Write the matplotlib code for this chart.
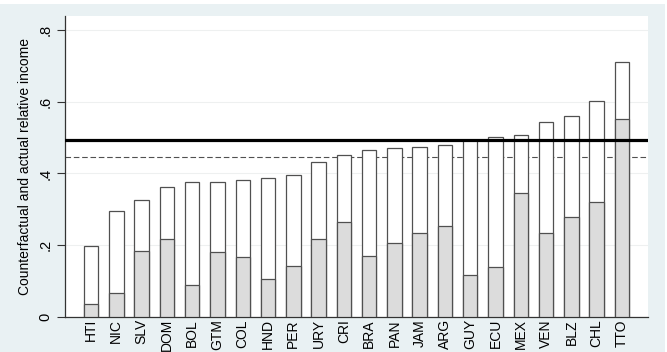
import matplotlib
matplotlib.use("Agg")
import matplotlib.pyplot as plt
from matplotlib.patches import Rectangle

# country codes, counterfactual (white bar) and actual (grey bar) relative income
countries = ["HTI", "NIC", "SLV", "DOM", "BOL", "GTM", "COL", "HND", "PER", "URY", "CRI",
             "BRA", "PAN", "JAM", "ARG", "GUY", "ECU", "MEX", "VEN", "BLZ", "CHL", "TTO"]
counterfactual = [0.198, 0.295, 0.327, 0.361, 0.375, 0.375, 0.382, 0.387, 0.395, 0.431, 0.451,
                  0.465, 0.472, 0.474, 0.479, 0.493, 0.501, 0.508, 0.543, 0.561, 0.601, 0.710]
actual = [0.037, 0.068, 0.183, 0.217, 0.090, 0.180, 0.168, 0.107, 0.143, 0.217, 0.265,
          0.169, 0.207, 0.234, 0.253, 0.116, 0.139, 0.346, 0.234, 0.280, 0.320, 0.553]
ref_solid = 0.494
ref_dashed = 0.447
yticks = [0, 0.2, 0.4, 0.6, 0.8]
ytick_labels = ["0", ".2", ".4", ".6", ".8"]

plt.rcParams['font.family'] = ['Liberation Sans Narrow', 'Liberation Sans', 'DejaVu Sans']

fig = plt.figure(figsize=(6.67, 3.52), dpi=100, facecolor="white")
fig.patches.append(Rectangle((0, 0), 665 / 667, 348 / 352, transform=fig.transFigure,
                             facecolor="#e9f1f3", edgecolor="none", zorder=-10))

ax = fig.add_axes([65 / 667, 1 - 317 / 352, 583 / 667, 301 / 352])
ax.set_facecolor("white")

x = list(range(len(countries)))
edge = "#505050"
ax.axhline(ref_dashed, color="#505050", lw=0.8, ls=(0, (5, 2.5)), zorder=1)
ax.bar(x, counterfactual, width=0.57, color="white", edgecolor=edge, linewidth=0.9, zorder=2)
ax.bar(x, actual, width=0.57, color="#dcdcdc", edgecolor=edge, linewidth=0.9, zorder=3)
ax.axhline(ref_solid, color="black", lw=2.3, zorder=4)

ax.set_xlim(-1.03, len(countries) - 1 + 1.03)
ax.set_ylim(0, 0.839)
ax.set_yticks(yticks)
ax.set_yticklabels(ytick_labels, rotation=90, va="center", fontsize=10.5)
ax.set_xticks(x)
ax.set_xticklabels(countries, rotation=90, fontsize=10)
ax.tick_params(axis="x", length=0, pad=1.5)
ax.tick_params(axis="y", length=6, width=0.8, color="#333333", pad=3)
ax.grid(axis="y", color="#eef0f0", lw=0.8)
ax.set_axisbelow(True)
for s in ["top", "right"]:
    ax.spines[s].set_visible(False)
for s in ["left", "bottom"]:
    ax.spines[s].set_color("#333333")
    ax.spines[s].set_linewidth(0.9)
ax.set_ylabel("Counterfactual and actual relative income", fontsize=10, labelpad=5)

fig.savefig("out.png", dpi=100, facecolor=fig.get_facecolor())
